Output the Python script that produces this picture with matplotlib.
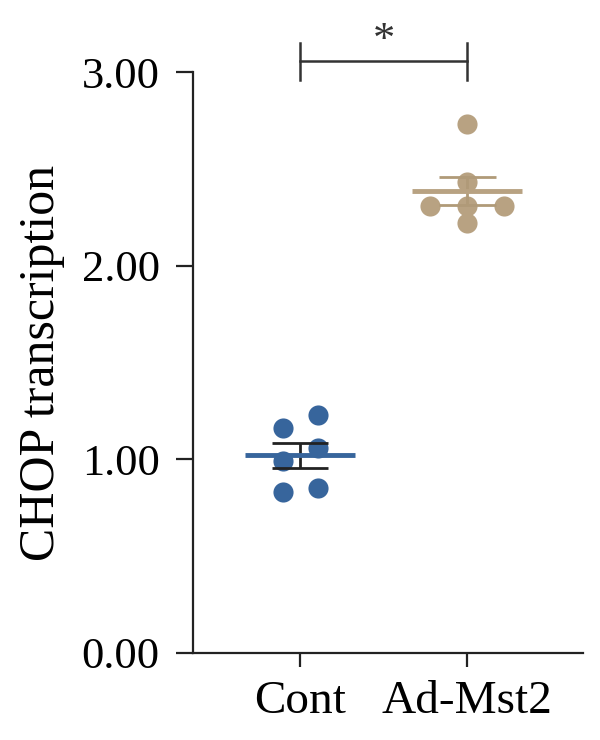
import numpy as np
import matplotlib.pyplot as plt

plt.rcParams['font.family'] = ['Liberation Serif', 'DejaVu Serif']

groups = ['Cont', 'Ad-Mst2']
cont = [1.16, 1.23, 1.06, 0.99, 0.83, 0.85]
cont_x = [-0.10, 0.11, 0.11, -0.10, -0.10, 0.11]
mst2 = [2.73, 2.43, 2.31, 2.31, 2.31, 2.22]
mst2_x = [0.0, 0.0, -0.22, 0.0, 0.22, 0.0]
colors = ['#37659c', '#b8a282']
err_colors = ['#222222', '#b09a78']

fig = plt.figure(figsize=(6, 7.4), dpi=100)
ax = fig.add_axes([0.322, 0.1176, 0.65, 0.7851])

for i, (vals, offs) in enumerate([(cont, cont_x), (mst2, mst2_x)]):
    vals = np.array(vals)
    m = vals.mean()
    sem = vals.std(ddof=1) / np.sqrt(len(vals))
    ax.scatter(i + np.array(offs), vals, s=210, color=colors[i], zorder=3, linewidths=0)
    ax.errorbar(i, m, yerr=sem, color=err_colors[i], capsize=0, lw=2, zorder=4)
    ax.hlines([m - sem, m + sem], i - 0.17, i + 0.17, color=err_colors[i], lw=2, zorder=4)
    ax.hlines(m, i - 0.33, i + 0.33, color=colors[i], lw=3.5, zorder=5)

# significance bracket
ax.plot([0, 1], [3.056, 3.056], color='#333333', lw=1.8, clip_on=False)
ax.plot([0, 0], [2.96, 3.15], color='#333333', lw=1.8, clip_on=False)
ax.plot([1, 1], [2.96, 3.15], color='#333333', lw=1.8, clip_on=False)
ax.text(0.5, 3.16, '*', ha='center', va='center', fontsize=32, color='#333333')

ax.set_xlim(-0.64, 1.695)
ax.set_ylim(0, 3)
ax.set_yticks([0, 1, 2, 3])
ax.set_yticklabels(['0.00', '1.00', '2.00', '3.00'], fontsize=32)
ax.set_xticks([0, 1])
ax.set_xticklabels(groups, fontsize=34)
ax.set_ylabel('CHOP transcription', fontsize=36, labelpad=12)

for s in ['top', 'right']:
    ax.spines[s].set_visible(False)
for s in ['left', 'bottom']:
    ax.spines[s].set_linewidth(1.6)
    ax.spines[s].set_color('#222222')
ax.tick_params(axis='y', length=12, width=1.6, color='#222222', pad=12)
ax.tick_params(axis='x', length=10, width=1.6, color='#222222', pad=10)

fig.savefig('out.png', dpi=100)
